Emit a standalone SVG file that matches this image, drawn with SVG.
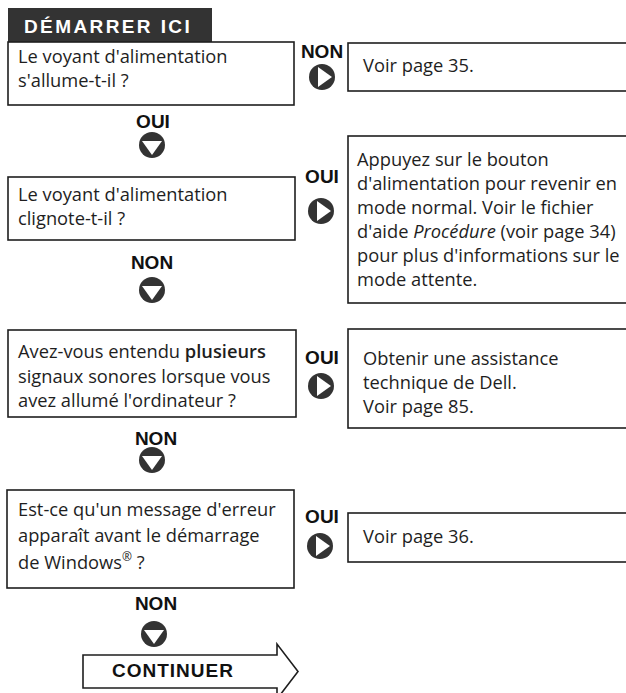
<svg xmlns="http://www.w3.org/2000/svg" width="626" height="693" viewBox="0 0 626 693">
<style>
.box{fill:#fff;stroke:#1e1e1e;stroke-width:1.6}
.t{font-family:"Open Sans","DejaVu Sans",sans-serif;font-size:18.3px;fill:#1e1e1e}
.lbl{font-family:"Liberation Sans",Arial,sans-serif;font-weight:bold;font-size:19px;fill:#111;text-anchor:middle}
.dot{fill:#333}
.tri{fill:#fff}
</style>
<defs>
<g id="down"><circle r="13" class="dot"/><polygon class="tri" points="-10,-4 10,-4 0,10"/></g>
<g id="right"><circle r="13" class="dot"/><polygon class="tri" points="-4,-10 -4,10 10,0"/></g>
</defs>
<rect width="626" height="693" fill="#fff"/>

<g id="header">
<rect x="8" y="8" width="204" height="34" fill="#333"/>
<text x="24" y="33" font-family="Liberation Sans,Arial,sans-serif" font-weight="bold" font-size="19" letter-spacing="2.4" fill="#fff">DÉMARRER ICI</text>
</g>

<g id="q1">
<rect class="box" x="8" y="42" width="286" height="63"/>
<text class="t" x="18" y="63">Le voyant d'alimentation</text>
<text class="t" x="18" y="87">s'allume-t-il ?</text>
</g>

<g id="a1">
<rect class="box" x="348" y="43" width="290" height="48"/>
<text class="t" x="363" y="72">Voir page 35.</text>
</g>

<g id="q2">
<rect class="box" x="8" y="177" width="287" height="63"/>
<text class="t" x="18" y="201">Le voyant d'alimentation</text>
<text class="t" x="18" y="225">clignote-t-il ?</text>
</g>

<g id="a2">
<rect class="box" x="348" y="136" width="290" height="167"/>
<text class="t" x="357" y="166">Appuyez sur le bouton</text>
<text class="t" x="357" y="190">d'alimentation pour revenir en</text>
<text class="t" x="357" y="214">mode normal. Voir le fichier</text>
<text class="t" x="357" y="238">d'aide <tspan font-style="italic">Procédure</tspan> (voir page 34)</text>
<text class="t" x="357" y="262">pour plus d'informations sur le</text>
<text class="t" x="357" y="286">mode attente.</text>
</g>

<g id="q3">
<rect class="box" x="8" y="330" width="288" height="87"/>
<text class="t" x="18" y="358">Avez-vous entendu <tspan font-weight="600">plusieurs</tspan></text>
<text class="t" x="18" y="383">signaux sonores lorsque vous</text>
<text class="t" x="18" y="407">avez allumé l'ordinateur ?</text>
</g>

<g id="a3">
<rect class="box" x="348" y="329" width="290" height="99"/>
<text class="t" x="363" y="365">Obtenir une assistance</text>
<text class="t" x="363" y="389">technique de Dell.</text>
<text class="t" x="363" y="413">Voir page 85.</text>
</g>

<g id="q4">
<rect class="box" x="7" y="490" width="287" height="98"/>
<text class="t" x="18" y="516">Est-ce qu'un message d'erreur</text>
<text class="t" x="18" y="542">apparaît avant le démarrage</text>
<text class="t" x="18" y="569">de Windows<tspan font-size="12" dy="-8">®</tspan><tspan dy="8"> ?</tspan></text>
</g>

<g id="a4">
<rect class="box" x="348" y="513" width="290" height="49"/>
<text class="t" x="363" y="543">Voir page 36.</text>
</g>

<g id="continuer">
<polygon class="box" points="83,655 277,655 277,644 298,671.5 277,699 277,688 83,688"/>
<text x="112" y="677" font-family="Liberation Sans,Arial,sans-serif" font-weight="bold" font-size="19" letter-spacing="1" fill="#111">CONTINUER</text>
</g>

<g id="connectors">
<text class="lbl" x="322" y="58">NON</text>
<use href="#right" x="322" y="77"/>
<text class="lbl" x="153" y="128">OUI</text>
<use href="#down" x="152" y="145"/>
<text class="lbl" x="322" y="183">OUI</text>
<use href="#right" x="321" y="211"/>
<text class="lbl" x="152" y="269">NON</text>
<use href="#down" x="152" y="290"/>
<text class="lbl" x="322" y="364">OUI</text>
<use href="#right" x="321" y="386"/>
<text class="lbl" x="156" y="445">NON</text>
<use href="#down" x="152" y="460"/>
<text class="lbl" x="322" y="523">OUI</text>
<use href="#right" x="320" y="546"/>
<text class="lbl" x="156" y="610">NON</text>
<use href="#down" x="154" y="634"/>
</g>
</svg>
